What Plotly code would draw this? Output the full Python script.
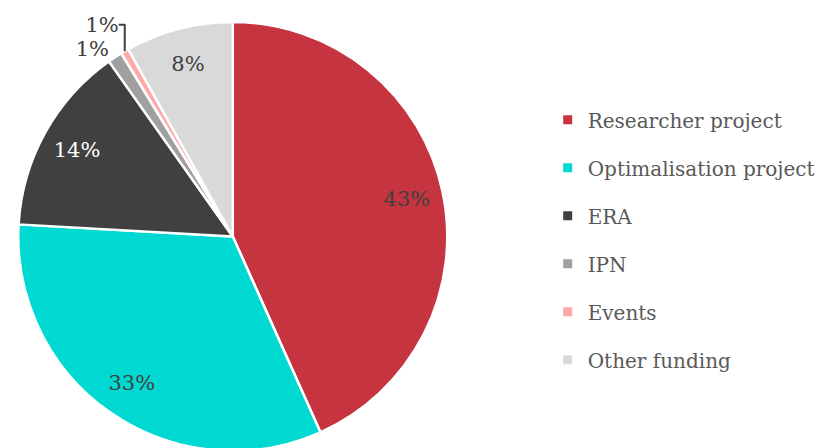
import plotly.graph_objects as go

categories = ["Researcher project", "Optimalisation project", "ERA", "IPN", "Events", "Other funding"]
shares = [43.3, 32.6, 14.3, 1.1, 0.6, 8.1]
colors = ["#C5343F", "#00D9D2", "#404040", "#A0A0A0", "#FFA8A8", "#D9D9D9"]
label_colors = ["#404040", "#404040", "#FFFFFF", "#404040", "#404040", "#404040"]
text_pos = ["inside", "inside", "inside", "outside", "outside", "inside"]

FONT = "Georgia, 'DejaVu Serif', 'Liberation Serif', serif"
DOMAIN = dict(x=[0.0, 0.53], y=[0.0, 0.975])

fig = go.Figure()
# solid pie underneath
fig.add_trace(
    go.Pie(
        labels=categories, values=shares, sort=False,
        direction="clockwise", rotation=0,
        marker=dict(colors=colors, line=dict(color="white", width=2.5)),
        textinfo="none", showlegend=False, hoverinfo="label+percent",
        domain=DOMAIN,
    )
)
# transparent ring on top only carries the labels, so they sit out towards the rim
fig.add_trace(
    go.Pie(
        labels=categories, values=shares, sort=False,
        direction="clockwise", rotation=0, hole=0.66,
        marker=dict(colors=["rgba(0,0,0,0)"] * len(shares), line=dict(width=0)),
        texttemplate="%{percent:.0%}",
        textposition=text_pos,
        insidetextorientation="horizontal",
        insidetextfont=dict(family=FONT, size=21, color=label_colors),
        outsidetextfont=dict(family=FONT, size=21, color="#404040"),
        showlegend=False, hoverinfo="skip",
        domain=DOMAIN,
    )
)

# legend entries (kept as separate groups so the spacing can be opened up)
for name, col in zip(categories, colors):
    fig.add_trace(
        go.Scatter(
            x=[None], y=[None], mode="markers", name=name,
            legendgroup=name,
            marker=dict(symbol="square", size=9, color=col),
        )
    )

fig.update_layout(
    width=826,
    height=448,
    margin=dict(l=0, r=0, t=0, b=0),
    paper_bgcolor="white",
    plot_bgcolor="white",
    xaxis=dict(visible=False, domain=[0.99, 1]),
    yaxis=dict(visible=False),
    legend=dict(
        x=0.65, y=0.48, xanchor="left", yanchor="middle",
        font=dict(family=FONT, size=20, color="#595959"),
        tracegroupgap=19,
        itemwidth=30,
    ),
)

fig.write_html("out.html")
